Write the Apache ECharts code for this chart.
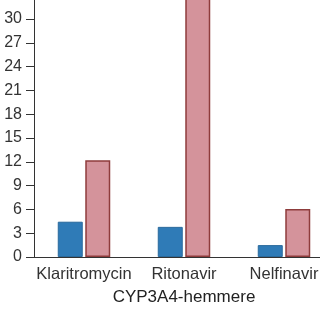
<!DOCTYPE html>
<html><head><meta charset="utf-8">
<script src="https://cdn.jsdelivr.net/npm/echarts@6/dist/echarts.min.js"></script>
<style>html,body{margin:0;padding:0;background:#fff;overflow:hidden;width:320px;height:320px;position:relative}
#c{width:360px;height:360px;position:absolute;left:0;top:-40px}</style>
</head><body><div id="c"></div>
<script>
const categories = ['Klaritromycin', 'Ritonavir', 'Nelfinavir'];
const blueValues = [4.45, 3.8, 1.5];
const redValues = [12.2, 34, 6.05];
const yTicks = [0, 3, 6, 9, 12, 15, 18, 21, 24, 27, 30, 33, 36];
const xAxisTitle = 'CYP3A4-hemmere';

const chart = echarts.init(document.getElementById('c'), null, {renderer: 'canvas'});
chart.setOption({
  animation: false,
  grid: {left: 34, right: 26, top: 11.5, bottom: 63, containLabel: false},
  xAxis: {
    type: 'category', data: categories,
    axisLine: {show: true, lineStyle: {color: '#333', width: 1}},
    axisTick: {show: false},
    axisLabel: {color: '#333', fontSize: 16.5, fontFamily: 'Liberation Sans', margin: 9, interval: 0},
    name: xAxisTitle, nameLocation: 'middle', nameGap: 32,
    nameTextStyle: {color: '#222', fontSize: 17, fontFamily: 'Liberation Sans'}
  },
  yAxis: {
    type: 'value', min: 0, max: 36, interval: 3,
    axisLine: {show: true, lineStyle: {color: '#333', width: 1}},
    axisTick: {show: true, length: 8, lineStyle: {color: '#333'}},
    axisLabel: {color: '#333', fontSize: 16, fontFamily: 'Liberation Sans', margin: 12},
    splitLine: {show: false}
  },
  series: [
    {type: 'bar', data: blueValues, barWidth: 25, barGap: '10%',
     itemStyle: {color: '#2f7bb7', borderColor: '#2a6a9c', borderWidth: 1}},
    {type: 'bar', data: redValues, barWidth: 25, barGap: '10%',
     itemStyle: {color: '#d4939b', borderColor: '#8e3c3c', borderWidth: 1.5}}
  ]
});
</script></body></html>
